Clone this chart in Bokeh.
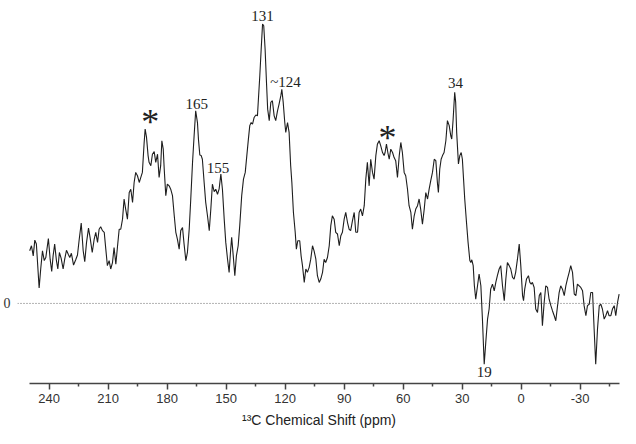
from bokeh.plotting import figure
from bokeh.models import Range1d, FixedTicker, Span, LinearAxis
from bokeh.core.properties import value
from bokeh.embed import file_html
from bokeh.resources import INLINE

# 13C chemical shift (ppm) and intensity (arbitrary units)
ppm = [249.9, 249.0, 248.1, 247.3, 246.5, 245.1, 244.3, 243.4, 242.5, 241.7,
       240.4, 239.5, 238.7, 238.0, 237.2, 236.3, 235.6, 234.8, 233.9, 232.9,
       232.1, 231.2, 230.3, 229.5, 228.7, 227.6, 226.5, 225.6, 224.7, 223.7,
       222.7, 221.9, 221.0, 220.0, 219.2, 218.1,
       217.1, 216.3, 215.4, 214.6, 213.8, 212.9, 212.0, 211.2, 210.4, 209.5,
       208.7, 207.8, 207.0, 206.1, 205.3, 204.4, 203.6, 202.7, 201.9, 201.1,
       200.2, 199.3, 198.5, 197.6, 196.8, 196.0, 195.1, 194.2, 193.4, 192.6,
       191.7, 191.2, 190.5, 189.7, 189.2, 188.3, 187.5, 186.6, 185.8, 184.9,
       184.1, 183.3, 182.7, 182.0, 181.5, 180.7, 179.9, 179.0, 178.2, 177.3,
       176.4, 175.6, 174.8, 173.9, 173.1, 172.2, 171.4, 170.5, 169.7, 168.8,
       168.0, 167.1, 166.3, 165.5, 164.6, 164.1, 163.4, 162.7, 162.1, 161.2,
       160.4, 159.5, 158.6, 157.8,
       157.0, 156.1, 155.3, 154.4, 153.6, 152.7, 151.9, 151.0, 150.2, 149.3,
       148.5, 147.7, 147.2, 146.4, 145.6, 144.8, 143.9, 143.1, 142.1, 141.2,
       140.3, 139.5, 138.7, 138.0, 137.3, 136.6, 135.8, 134.9, 134.1, 133.6,
       132.9, 132.2, 131.5, 130.9, 130.2, 129.5, 128.9, 128.1, 127.3, 126.5,
       125.6, 124.8, 123.9, 123.1, 122.2, 121.7, 121.0, 120.2, 119.7, 118.8,
       118.0, 117.2, 116.6, 115.8, 114.9, 114.3, 113.6, 112.6, 111.9, 111.2,
       110.3, 109.5, 108.7, 107.8, 107.0, 106.1, 105.3, 104.4, 103.6, 102.7,
       101.9, 101.0, 100.2, 99.4, 98.5, 97.6, 96.8, 96.0, 95.1, 94.3,
       93.4, 92.5, 91.7, 90.9, 90.0, 89.2, 88.3, 87.5, 86.7, 85.8,
       84.9, 84.1, 83.2, 82.4, 81.6, 80.7, 79.8, 79.0, 78.2, 77.3,
       76.5, 75.6, 74.8, 73.9, 73.1, 72.2, 71.4, 70.5, 69.7, 69.2,
       68.5, 67.8, 67.1, 66.3, 65.4, 64.6, 63.8, 62.9, 62.0, 61.2,
       60.4, 59.5, 58.7, 57.8, 57.0, 56.1,
       55.3, 54.4, 53.6, 52.7, 51.9, 51.1, 50.2, 49.3, 48.5, 47.6,
       46.8, 46.0, 45.1, 44.2, 43.4, 42.6, 42.1, 41.4, 40.7, 40.0,
       39.2, 38.3, 37.5, 36.6, 35.8, 35.3, 34.6, 33.8, 33.3, 32.8,
       31.9, 31.2, 30.5, 29.9, 29.3, 28.7, 27.8, 27.0, 26.1, 25.6,
       25.1, 24.4, 23.8, 23.1, 22.2, 21.4, 20.5, 19.7, 18.8, 18.0,
       17.1, 16.3, 15.5, 14.6, 13.7, 12.9, 12.1, 11.2, 10.4, 9.5,
       8.6, 7.8, 7.0, 6.1, 5.3, 4.4, 3.6, 2.8, 1.9, 1.0,
       0.2, -0.7, -1.2, -1.8, -2.7, -3.7, -4.4, -5.1, -5.7, -6.6,
       -7.4, -8.3, -9.2, -10.0, -10.8, -11.7, -12.5, -13.4, -14.2, -15.1,
       -15.9, -16.8, -17.6, -18.5, -19.3, -20.1, -21.0, -21.9, -22.7, -23.5,
       -24.4, -25.2, -26.1, -27.0, -27.8, -28.6, -29.5, -30.3, -31.2, -32.0,
       -32.9, -33.7, -34.6, -35.4, -36.3, -37.1, -37.9, -38.8, -39.7, -40.5,
       -41.3, -42.2, -43.0, -43.9, -44.7, -45.6, -46.4, -47.3, -48.1, -49.0, -49.8]

intensity = [18.8, 20.6, 17.0, 22.6, 21.2, 5.5, 12.3, 18.8, 15.3, 16.4,
             23.2, 15.8, 11.4, 17.0, 21.2, 15.3, 12.3, 18.2, 16.1, 12.3,
             15.8, 19.0, 17.6, 16.4, 17.9, 13.7, 15.6, 17.3, 23.0, 28.7,
             18.8, 14.9, 21.8, 26.9, 23.6, 18.2,
             23.0, 25.4, 21.8, 26.5, 27.4, 26.0, 25.4, 19.4, 13.5, 15.3,
             12.3, 14.6, 20.0, 14.0, 20.0, 26.5, 26.5, 30.1, 37.3, 33.7,
             30.1, 39.6, 40.8, 36.1, 43.2, 46.8, 45.6, 43.2, 45.0, 46.8,
             57.5, 62.3, 59.3, 52.8, 50.4, 49.2, 53.3, 54.2, 50.4, 53.3,
             45.0, 49.2, 58.1, 55.1, 48.0, 38.5, 42.6, 42.0, 40.8, 38.5,
             31.3, 25.4, 23.0, 19.4, 26.0, 27.1, 21.2, 15.3, 18.2, 26.5,
             37.3, 50.4, 59.9, 68.8, 64.6, 58.7, 53.0, 52.8, 51.5, 43.2,
             36.1, 31.3, 26.0, 33.7,
             42.6, 39.9, 40.8, 39.0, 40.8, 46.2, 40.8, 30.1, 21.8, 15.8,
             11.1, 19.4, 23.6, 17.0, 9.9, 17.0, 20.6, 27.8, 38.5, 44.4,
             46.8, 52.8, 58.7, 63.5, 64.6, 64.0, 66.4, 67.3, 67.0, 73.0,
             81.3, 90.8, 99.8, 99.2, 90.8, 78.9, 69.4, 65.3, 71.8, 72.4,
             67.0, 65.3, 68.8, 71.2, 74.2, 76.5, 71.8, 64.6, 61.1, 64.6,
             61.1, 49.2, 43.2, 32.5, 25.4, 19.4, 22.4, 22.4, 17.0, 13.5,
             7.5, 12.3, 11.1, 12.9, 15.8, 20.6, 18.8, 15.8, 9.9, 7.5,
             8.7, 11.1, 15.8, 14.6, 16.4, 20.6, 27.8, 31.3, 30.1, 25.4,
             24.8, 20.6, 24.2, 25.4, 30.1, 32.5, 28.9, 26.5, 26.0, 29.5,
             32.5, 25.4, 25.4, 32.5, 33.7, 31.3, 34.9, 44.4, 50.4, 42.0,
             51.5, 46.8, 44.4, 52.8, 56.9, 58.1, 56.3, 53.9, 52.8, 53.9,
             56.9, 53.9, 51.5, 55.1, 53.9, 52.1, 51.0, 45.0, 52.8, 57.5,
             53.9, 46.8, 45.6, 40.8, 34.9, 32.5,
             26.5, 31.3, 33.7, 34.9, 37.3, 33.7, 28.3, 33.7, 39.6, 37.3,
             40.8, 43.8, 46.8, 51.5, 51.0, 43.2, 39.6, 48.0, 51.5, 52.8,
             53.9, 58.1, 65.3, 63.5, 59.9, 58.7, 65.8, 75.4, 71.8, 61.1,
             49.8, 52.8, 53.9, 51.5, 44.4, 37.3, 28.9, 21.8, 15.3, 14.6,
             15.6, 13.5, 6.3, 1.5, 6.3, 10.5, 6.3, -5.6, -21.7, -13.9,
             -5.6, -2.0, 5.1, 6.9, 4.5, 7.5, 9.9, 12.3, 13.5, 6.3,
             1.0, 8.7, 14.6, 13.5, 12.3, 9.3, 8.7, 11.1, 15.8, 21.2,
             13.5, 2.8, 1.0, 5.1, 8.7, 9.9, 7.5, 6.9, 7.5, 5.7,
             -2.0, -3.2, 2.8, 3.9, -8.0, 0.4, 6.3, 5.7, 1.5, -0.8,
             -2.6, -4.4, -6.2, -0.8, 3.9, 6.3, 5.1, 2.8, 6.3, 8.7,
             11.1, 13.5, 11.1, 3.3, 2.8, 6.9, 6.3, 5.7, 4.5, -0.8,
             -4.4, -0.8, -0.3, 3.9, 3.9, -9.2, -21.7, -9.2, -0.8, -0.3,
             -2.0, -5.6, -4.4, -2.6, -4.4, -4.4, -2.0, -0.8, -4.4, 0.4, 3.3]

# Peak labels
peak_text = ["131", "~124", "165", "155", "34", "19"]
peak_ppm = [131.5, 119.8, 164.9, 154.2, 33.4, 18.8]
peak_int = [102.8, 79.2, 71.4, 48.2, 78.6, -24.4]

# Asterisk markers (spinning sidebands)
star_ppm = [188.6, 68.0]
star_int = [64.9, 59.0]

# Axis ticks
major_ticks = [240, 210, 180, 150, 120, 90, 60, 30, 0, -30]
major_labels = ["240", "210", "180", "150", "120", "90", "60", "30", "0", "-30"]
minor_ticks = [225, 195, 165, 135, 105, 75, 45, 15, -15, -45]

p = figure(frame_width=603, frame_height=383,
           x_range=Range1d(256.1, -50.5), y_range=Range1d(-28.6, 108.2),
           output_backend="svg", toolbar_location=None,
           min_border_left=17, min_border_right=0, min_border_top=0,
           x_axis_location=None, y_axis_location=None)
p.outline_line_color = None
p.xgrid.visible = False
p.ygrid.visible = False
p.background_fill_color = "white"
p.border_fill_color = "white"

# x axis
xa = LinearAxis(ticker=FixedTicker(ticks=major_ticks, minor_ticks=minor_ticks),
                bounds=(-49.8, 250.2))
xa.major_label_overrides = {t: s for t, s in zip(major_ticks, major_labels)}
xa.axis_label = "\u00b9\u00b3C Chemical Shift (ppm)"
xa.axis_label_text_font = "Liberation Sans"
xa.axis_label_text_font_size = "14px"
xa.axis_label_text_font_style = "normal"
xa.axis_label_text_color = "#222222"
xa.axis_label_standoff = 6
xa.major_label_text_font = "Liberation Sans"
xa.major_label_text_font_size = "13px"
xa.major_label_text_color = "#333333"
xa.major_label_standoff = 4
xa.axis_line_color = "#444444"
xa.axis_line_width = 1.5
xa.major_tick_line_color = "#444444"
xa.major_tick_line_width = 1.5
xa.major_tick_in = 0
xa.major_tick_out = 6
xa.minor_tick_line_color = "#444444"
xa.minor_tick_line_width = 1.5
xa.minor_tick_in = 0
xa.minor_tick_out = 3
p.add_layout(xa, "below")

# y axis showing only the zero label
ya = LinearAxis(ticker=FixedTicker(ticks=[0], minor_ticks=[]))
ya.axis_line_color = None
ya.major_tick_line_color = None
ya.minor_tick_line_color = None
ya.major_tick_in = 0
ya.major_tick_out = 0
ya.major_label_standoff = 7
ya.major_label_text_font = "Liberation Serif"
ya.major_label_text_font_size = "14px"
ya.major_label_text_color = "#333333"
p.add_layout(ya, "left")

# dotted zero line
p.add_layout(Span(location=0, dimension="width", line_color="#666666",
                  line_width=1, line_dash="1 2"))

# spectrum
p.line(ppm, intensity, line_color="#1e1e1e", line_width=1.1)

# labels
p.text(x=peak_ppm, y=peak_int, text=peak_text,
       text_font=value("Liberation Serif"), text_font_size="15px",
       text_color="#222222", text_align="center", text_baseline="middle")
p.text(x=star_ppm, y=star_int, text=["*", "*"],
       text_font=value("Liberation Serif"), text_font_size="36px",
       text_color="#222222", text_align="center", text_baseline="middle")

open("out.html", "w").write(file_html(p, INLINE))
